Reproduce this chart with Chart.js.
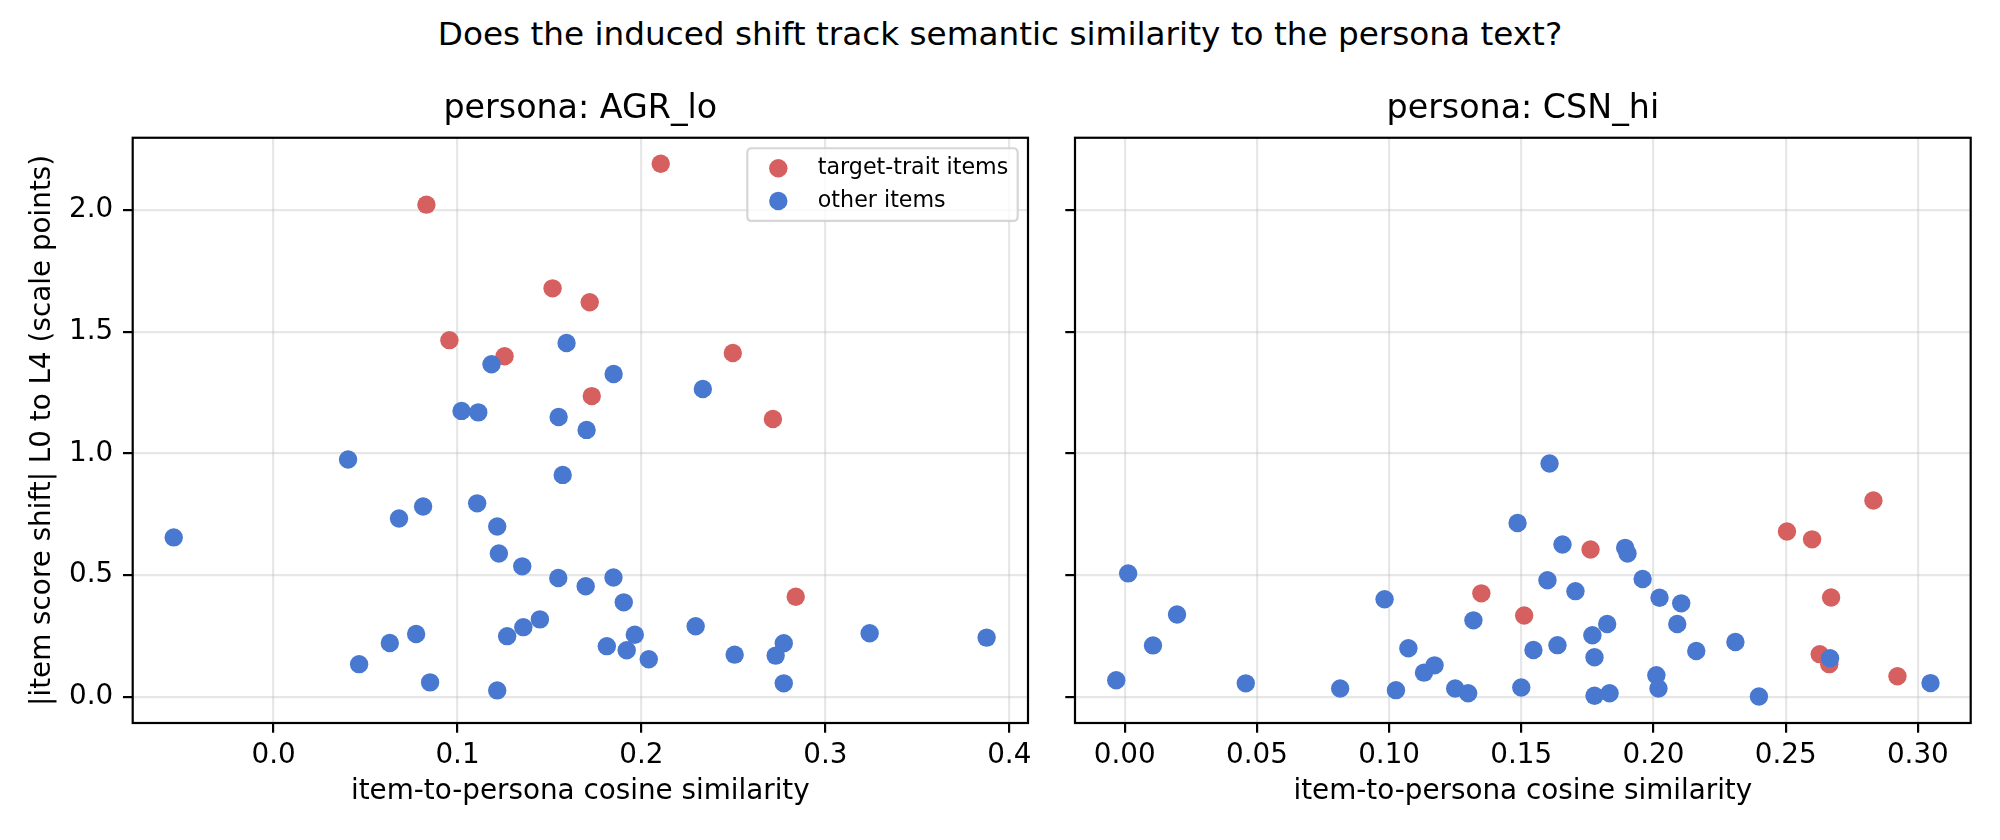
<!DOCTYPE html>
<html><head><meta charset="utf-8">
<script src="https://cdn.jsdelivr.net/npm/chart.js@4.4.1/dist/chart.umd.min.js"></script>
<style>
html,body{margin:0;padding:0;background:#fff;width:2000px;height:840px;overflow:hidden;}
#sup{position:absolute;left:0;top:17.5px;width:2000px;text-align:center;font-family:"DejaVu Sans";font-size:32.7px;line-height:32.7px;color:#000;white-space:nowrap;}
#c1{position:absolute;left:0;top:0;}
#c2{position:absolute;left:1050px;top:0;}
</style></head><body>
<div id="sup">Does the induced shift track semantic similarity to the persona text?</div>
<canvas id="c1" width="1050" height="840"></canvas>
<canvas id="c2" width="950" height="840"></canvas>
<script>
// ---------- data ----------
const suptitle = "Does the induced shift track semantic similarity to the persona text?";
const panelTitles = ["persona: AGR_lo", "persona: CSN_hi"];
const seriesLabels = ["target-trait items", "other items"];
const xLabel = "item-to-persona cosine similarity";
const yLabel = "|item score shift| L0 to L4 (scale points)";

const agrTargetX = [0.0831, 0.2105, 0.1517, 0.1719, 0.0956, 0.1256, 0.2497, 0.1730, 0.2715, 0.2839];
const agrTargetY = [2.023, 2.191, 1.679, 1.622, 1.466, 1.400, 1.413, 1.236, 1.142, 0.411];

const agrOtherX = [-0.0543, 0.0405, 0.1593, 0.1185, 0.1849, 0.2334, 0.1022, 0.1113, 0.1550, 0.1702,
  0.1572, 0.0682, 0.0813, 0.1107, 0.1216, 0.1225, 0.1352, 0.1548, 0.1848, 0.1697,
  0.1904, 0.1448, 0.1358, 0.1270, 0.0775, 0.0632, 0.0465, 0.0851, 0.1216, 0.1812,
  0.1920, 0.1964, 0.2040, 0.2295, 0.2507, 0.2730, 0.2774, 0.2774, 0.3241, 0.3877];
const agrOtherY = [0.655, 0.975, 1.454, 1.367, 1.327, 1.265, 1.175, 1.169, 1.150, 1.097,
  0.912, 0.733, 0.782, 0.795, 0.700, 0.589, 0.536, 0.488, 0.490, 0.454,
  0.388, 0.318, 0.286, 0.249, 0.258, 0.221, 0.134, 0.059, 0.026, 0.208,
  0.191, 0.255, 0.154, 0.290, 0.173, 0.169, 0.220, 0.055, 0.261, 0.243];

const csnTargetX = [0.2832, 0.2505, 0.2600, 0.1762, 0.1349, 0.2672, 0.1511, 0.2629, 0.2665, 0.2923];
const csnTargetY = [0.807, 0.679, 0.647, 0.605, 0.425, 0.408, 0.334, 0.175, 0.134, 0.084];

const csnOtherX = [0.1607, 0.1486, 0.1656, 0.1893, 0.1902, 0.1959, 0.1599, 0.1705, 0.2023, 0.2105,
  0.0013, 0.0198, 0.0983, 0.0107, -0.0032, 0.0458, 0.0815, 0.1026, 0.1073, 0.1172,
  0.1132, 0.1250, 0.1299, 0.1319, 0.1500, 0.1546, 0.1637, 0.1769, 0.1825, 0.1777,
  0.1777, 0.1834, 0.2011, 0.2019, 0.2090, 0.2162, 0.2310, 0.2399, 0.2668, 0.3048];
const csnOtherY = [0.959, 0.714, 0.626, 0.612, 0.589, 0.484, 0.479, 0.434, 0.407, 0.384,
  0.507, 0.338, 0.401, 0.211, 0.068, 0.055, 0.034, 0.027, 0.199, 0.129,
  0.099, 0.034, 0.014, 0.314, 0.038, 0.192, 0.212, 0.253, 0.299, 0.162,
  0.004, 0.014, 0.088, 0.034, 0.299, 0.188, 0.225, 0.001, 0.158, 0.056];

const agrXTicks = [0.0, 0.1, 0.2, 0.3, 0.4];
const csnXTicks = [0.00, 0.05, 0.10, 0.15, 0.20, 0.25, 0.30];
const yTicks = [0.0, 0.5, 1.0, 1.5, 2.0];

// ---------- styling ----------
const RED = "#d65f5f", BLUE = "#4878d0";
const FONT = "DejaVu Sans";
Chart.defaults.font.family = FONT;
Chart.defaults.color = "#000";

function pts(xs, ys) { return xs.map((x, i) => ({x: x, y: ys[i]})); }

const framePlugin = {
  id: "frame",
  afterDraw(chart) {
    const {ctx, chartArea: a} = chart;
    ctx.save();
    ctx.strokeStyle = "#000";
    ctx.lineWidth = 2.2;
    ctx.strokeRect(a.left, a.top, a.right - a.left, a.bottom - a.top);
    ctx.restore();
  }
};

const boxLegendPlugin = {
  id: "boxLegend",
  afterDraw(chart, args, opts) {
    if (!opts || !opts.show) return;
    const {ctx, chartArea: a} = chart;
    const w = 270.4, h = 72.7;
    const x0 = a.right - 10.3 - w, y0 = a.top + 10.5;
    ctx.save();
    ctx.beginPath();
    const r = 4.5;
    ctx.moveTo(x0 + r, y0);
    ctx.lineTo(x0 + w - r, y0); ctx.quadraticCurveTo(x0 + w, y0, x0 + w, y0 + r);
    ctx.lineTo(x0 + w, y0 + h - r); ctx.quadraticCurveTo(x0 + w, y0 + h, x0 + w - r, y0 + h);
    ctx.lineTo(x0 + r, y0 + h); ctx.quadraticCurveTo(x0, y0 + h, x0, y0 + h - r);
    ctx.lineTo(x0, y0 + r); ctx.quadraticCurveTo(x0, y0, x0 + r, y0);
    ctx.closePath();
    ctx.fillStyle = "rgba(255,255,255,0.8)";
    ctx.fill();
    ctx.strokeStyle = "rgba(204,204,204,0.8)";
    ctx.lineWidth = 2.2;
    ctx.stroke();
    const items = chart.data.datasets.slice().reverse();
    items.forEach((ds, i) => {
      const cy = y0 + 20 + i * 32.7;
      ctx.beginPath();
      ctx.arc(x0 + 31, cy, 9.2, 0, Math.PI * 2);
      ctx.fillStyle = ds.backgroundColor;
      ctx.fill();
      ctx.fillStyle = "#000";
      ctx.font = "22.2px '" + FONT + "'";
      ctx.textBaseline = "middle";
      ctx.textAlign = "left";
      ctx.fillText(ds.label, x0 + 70.5, cy);
    });
    ctx.restore();
  }
};

function makeChart(id, title, target, other, xMin, xMax, xTicks, xDec, yAxisWidth, rightPad, showY, showLegend) {
  const gridOpts = {
    color: "rgba(176,176,176,0.3)", lineWidth: 2.2,
    drawTicks: true, tickLength: 9.7, tickColor: "#000", tickWidth: 2.2
  };
  return new Chart(document.getElementById(id), {
    type: "scatter",
    data: {
      datasets: [
        {label: seriesLabels[1], data: other, backgroundColor: BLUE, borderWidth: 0, pointRadius: 9.2, pointHoverRadius: 9.2},
        {label: seriesLabels[0], data: target, backgroundColor: RED, borderWidth: 0, pointRadius: 9.2, pointHoverRadius: 9.2}
      ]
    },
    options: {
      responsive: false, animation: false, devicePixelRatio: 1,
      layout: {padding: {left: 0, right: rightPad, top: 0, bottom: 0}},
      plugins: {
        legend: {display: false}, tooltip: {enabled: false},
        title: {display: true, text: title, fullSize: false, color: "#000",
          font: {family: FONT, size: 33.3, weight: "normal", lineHeight: 1.2},
          padding: {top: 89.5, bottom: 8.3}},
        boxLegend: {show: showLegend}
      },
      scales: {
        x: {
          type: "linear", min: xMin, max: xMax,
          afterBuildTicks: s => { s.ticks = xTicks.map(v => ({value: v})); },
          afterFit: s => { s.height = 117; },
          ticks: {callback: v => Number(v).toFixed(xDec), font: {family: FONT, size: 27.8, lineHeight: 1.2},
            color: "#000", padding: 6, maxRotation: 0, autoSkip: false},
          grid: gridOpts, border: {display: false},
          title: {display: true, text: xLabel, color: "#000",
            font: {family: FONT, size: 27.8, lineHeight: 1.2}, padding: {top: 0, bottom: 31.3}}
        },
        y: {
          type: "linear", min: -0.108, max: 2.298,
          afterBuildTicks: s => { s.ticks = yTicks.map(v => ({value: v})); },
          afterFit: s => { s.width = yAxisWidth; },
          ticks: {display: showY, callback: v => Number(v).toFixed(1), font: {family: FONT, size: 27.8, lineHeight: 1.2},
            color: "#000", padding: 9.7, autoSkip: false},
          grid: gridOpts, border: {display: false},
          title: {display: showY, text: yLabel, color: "#000",
            font: {family: FONT, size: 27.8, lineHeight: 1.2}, padding: {top: 25.7, bottom: 0}}
        }
      }
    },
    plugins: [framePlugin, boxLegendPlugin]
  });
}

makeChart("c1", panelTitles[0], pts(agrTargetX, agrTargetY), pts(agrOtherX, agrOtherY),
  -0.0766, 0.4102, agrXTicks, 1, 132.7, 22, true, true);
makeChart("c2", panelTitles[1], pts(csnTargetX, csnTargetY), pts(csnOtherX, csnOtherY),
  -0.0188, 0.3200, csnXTicks, 2, 25, 29.3, false, false);
</script>
</body></html>
